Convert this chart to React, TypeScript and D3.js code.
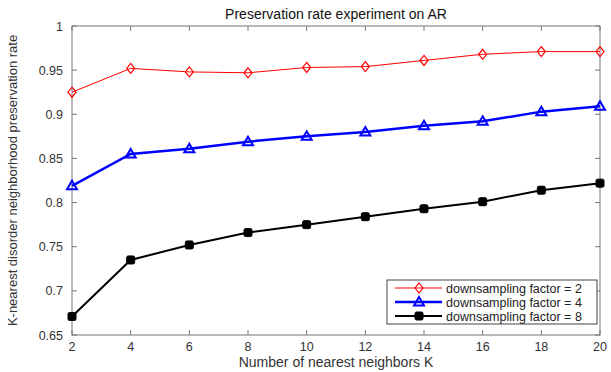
import React, { useEffect, useRef } from "react";
import * as d3 from "d3";

const kValues = [2, 4, 6, 8, 10, 12, 14, 16, 18, 20];
const factor2 = [0.925, 0.952, 0.948, 0.947, 0.953, 0.954, 0.961, 0.968, 0.971, 0.971];
const factor4 = [0.819, 0.855, 0.861, 0.869, 0.875, 0.880, 0.887, 0.892, 0.903, 0.909];
const factor8 = [0.671, 0.735, 0.752, 0.766, 0.775, 0.784, 0.793, 0.801, 0.814, 0.822];
const seriesNames = ["downsampling factor = 2", "downsampling factor = 4", "downsampling factor = 8"];
const yTicks = [0.65, 0.7, 0.75, 0.8, 0.85, 0.9, 0.95, 1];

const App = () => {
  const ref = useRef<SVGSVGElement>(null);

  useEffect(() => {
    const svg = d3.select(ref.current);
    svg.selectAll("*").remove();

    const width = 611;
    const height = 372;
    const margin = { top: 26, right: 11, bottom: 37, left: 72 };
    const font = "Arial, 'Liberation Sans', sans-serif";
    const axisColor = "#777";

    const x = d3.scaleLinear().domain([2, 20]).range([margin.left, width - margin.right]);
    const y = d3.scaleLinear().domain([0.65, 1]).range([height - margin.bottom, margin.top]);

    // plot box
    svg.append("rect")
      .attr("x", margin.left).attr("y", margin.top)
      .attr("width", width - margin.left - margin.right)
      .attr("height", height - margin.top - margin.bottom)
      .attr("fill", "white").attr("stroke", axisColor).attr("stroke-width", 1);

    const tickLen = 5;
    const gx = svg.append("g");
    kValues.forEach((k) => {
      gx.append("line").attr("x1", x(k)).attr("x2", x(k))
        .attr("y1", y(0.65)).attr("y2", y(0.65) - tickLen).attr("stroke", axisColor);
      gx.append("line").attr("x1", x(k)).attr("x2", x(k))
        .attr("y1", y(1)).attr("y2", y(1) + tickLen).attr("stroke", axisColor);
      gx.append("text").attr("x", x(k)).attr("y", 351)
        .attr("text-anchor", "middle").attr("font-family", font).attr("font-size", 12.5)
        .attr("fill", "#333").text(k);
    });

    const gy = svg.append("g");
    yTicks.forEach((t) => {
      gy.append("line").attr("x1", x(2)).attr("x2", x(2) + tickLen)
        .attr("y1", y(t)).attr("y2", y(t)).attr("stroke", axisColor);
      gy.append("line").attr("x1", x(20)).attr("x2", x(20) - tickLen)
        .attr("y1", y(t)).attr("y2", y(t)).attr("stroke", axisColor);
      gy.append("text").attr("x", x(2) - 9).attr("y", y(t) + 4.5)
        .attr("text-anchor", "end").attr("font-family", font).attr("font-size", 12.5)
        .attr("fill", "#333").text(String(t));
    });

    // title and axis labels
    svg.append("text").attr("x", (x(2) + x(20)) / 2).attr("y", 19)
      .attr("text-anchor", "middle").attr("font-family", font).attr("font-size", 14)
      .attr("fill", "#111").text("Preservation rate experiment on AR");
    svg.append("text").attr("x", (x(2) + x(20)) / 2).attr("y", 367)
      .attr("text-anchor", "middle").attr("font-family", font).attr("font-size", 14)
      .attr("fill", "#333").text("Number of nearest neighbors K");
    svg.append("text")
      .attr("transform", `translate(17, ${(y(0.65) + y(1)) / 2}) rotate(-90)`)
      .attr("text-anchor", "middle").attr("font-family", font).attr("font-size", 13)
      .attr("fill", "#333").text("K-nearest disorder neighborhood preservation rate");

    const line = d3.line<number>().x((_, i) => x(kValues[i])).y((d) => y(d));

    const series = [
      { values: factor2, color: "#ff0000", width: 1, marker: "diamond" },
      { values: factor4, color: "#0000ff", width: 2.5, marker: "triangle" },
      { values: factor8, color: "#000000", width: 2, marker: "square" },
    ];

    const drawMarker = (g: any, type: string, cx: number, cy: number, color: string) => {
      if (type === "diamond") {
        const s = 5;
        g.append("path")
          .attr("d", `M${cx},${cy - s}L${cx + s * 0.8},${cy}L${cx},${cy + s}L${cx - s * 0.8},${cy}Z`)
          .attr("fill", "none").attr("stroke", color).attr("stroke-width", 1.2);
      } else if (type === "triangle") {
        const s = 5;
        g.append("path")
          .attr("d", `M${cx},${cy - s}L${cx + s},${cy + s * 0.7}L${cx - s},${cy + s * 0.7}Z`)
          .attr("fill", "none").attr("stroke", color).attr("stroke-width", 2);
      } else {
        g.append("rect").attr("x", cx - 4).attr("y", cy - 4).attr("width", 8).attr("height", 8)
          .attr("rx", 1.5).attr("fill", color).attr("stroke", color);
      }
    };

    series.forEach((s) => {
      svg.append("path").datum(s.values).attr("d", line)
        .attr("fill", "none").attr("stroke", s.color).attr("stroke-width", s.width);
      const g = svg.append("g");
      s.values.forEach((v, i) => drawMarker(g, s.marker, x(kValues[i]), y(v), s.color));
    });

    // legend
    const lg = svg.append("g");
    lg.append("rect").attr("x", 387).attr("y", 280).attr("width", 210).attr("height", 44)
      .attr("fill", "white").attr("stroke", "#444").attr("stroke-width", 1);
    series.forEach((s, i) => {
      const ly = 288 + i * 14;
      lg.append("line").attr("x1", 395).attr("x2", 442).attr("y1", ly).attr("y2", ly)
        .attr("stroke", s.color).attr("stroke-width", s.width);
      drawMarker(lg, s.marker, 419, ly, s.color);
      lg.append("text").attr("x", 446).attr("y", ly + 4.5).attr("font-family", font)
        .attr("font-size", 12.5).attr("fill", "#222").text(seriesNames[i]);
    });
  }, []);

  return (
    <svg ref={ref} width={611} height={372} style={{ position: "absolute", left: 0, top: 0 }} />
  );
};

export default App;
